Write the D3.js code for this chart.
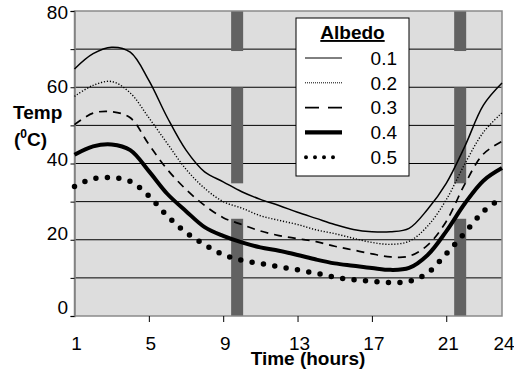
<!DOCTYPE html>
<html>
<head>
<meta charset="utf-8">
<script src="https://cdn.jsdelivr.net/npm/d3@7"></script>
<style>
    body { margin: 0; background: #fff; }
    svg { display: block; font-family: 'Liberation Sans', Arial, sans-serif; }
</style>
</head>
<body>
<div id="chart"></div>
<script>
// hourly temperatures for each albedo
const hours = [1, 2, 3, 4, 5, 6, 7, 8, 9, 10, 11, 12, 13, 14, 15, 16, 17, 18, 19, 20, 21, 22, 23, 24];
const albedo01 = [64.8, 68.8, 70.5, 69.2, 61.8, 52, 43.5, 37.8, 35.2, 32.6, 30.6, 29, 27.2, 25.6, 24, 22.7, 22.1, 22.1, 23, 28, 34.8, 44.5, 55.3, 61.1];
const albedo02 = [57.6, 60.5, 61.5, 58.5, 52, 45.2, 38.5, 33.5, 30, 28.3, 26.3, 25.1, 24, 22.6, 21.6, 20.4, 19.3, 18.8, 19.6, 23.6, 30.5, 39.9, 48.2, 53.3];
const albedo03 = [50.2, 53.2, 53.6, 52, 45, 38.4, 33.2, 29, 25.8, 24, 22.3, 21.1, 20.3, 19.5, 18.3, 17.3, 16.3, 15.5, 15.7, 18.6, 24.8, 34.6, 42.5, 45.8];
const albedo04 = [42.3, 44.5, 45, 43.5, 38, 32, 27.5, 23.3, 21, 19.3, 18, 17.1, 16, 14.8, 13.8, 13.2, 12.6, 12.1, 12.6, 16, 22.2, 29.5, 35.5, 38.8];
const albedo05 = [34, 36, 36.3, 35.3, 31.5, 26.2, 21.9, 18.7, 16.1, 14.6, 13.8, 12.9, 12.1, 11.2, 10.2, 9.5, 9.1, 8.8, 9.1, 11.3, 16.3, 21.8, 27.4, 31];
const seriesNames = ['0.1', '0.2', '0.3', '0.4', '0.5'];

// grey marker bars (hour) and the value ranges they cover
const markerHours = [9.75, 21.75];
const markerSegments = [[0, 25.5], [34.8, 60], [69.5, 80]];

const xTicks = [1, 5, 9, 13, 17, 21, 24];
const yTicks = [0, 10, 20, 30, 40, 50, 60, 70, 80];
const yLabels = [0, 20, 40, 60, 80];

const width = 514;
const height = 371;
const plot = { left: 74.5, right: 502, top: 11, bottom: 316 };

const styles = [
    { width: 1.5, dash: null, cap: 'butt' },
    { width: 1.4, dash: '1.2,1.8', cap: 'butt' },
    { width: 1.7, dash: '8,6', cap: 'butt' },
    { width: 4, dash: null, cap: 'butt' },
    { width: 5.5, dash: '0,11.5', cap: 'round' }
];
const legendStyles = [
    { width: 1, dash: null, cap: 'butt' },
    { width: 1, dash: '1,1', cap: 'butt' },
    { width: 1.7, dash: '14,9', cap: 'butt' },
    { width: 4.3, dash: null, cap: 'butt' },
    { width: 4, dash: '0,9', cap: 'round' }
];

const series = [albedo01, albedo02, albedo03, albedo04, albedo05];

const svg = d3.select('#chart').append('svg')
    .attr('width', width)
    .attr('height', height);

const xScale = d3.scaleLinear().domain([1, 24]).range([plot.left, plot.right]);
const yScale = d3.scaleLinear().domain([0, 80]).range([plot.bottom, plot.top]);
// the value labels sit a little off their ticks in the original
const yLabelScale = d3.scaleLinear().domain([0, 80]).range([307, 12]);

// plot area
svg.append('rect')
    .attr('x', plot.left)
    .attr('y', plot.top)
    .attr('width', plot.right - plot.left)
    .attr('height', plot.bottom - plot.top)
    .attr('fill', '#dddddd');

// gridlines
svg.append('g')
    .selectAll('line')
    .data(yTicks.filter(d => d > 0 && d < 80))
    .join('line')
    .attr('x1', plot.left)
    .attr('x2', plot.right)
    .attr('y1', d => yScale(d))
    .attr('y2', d => yScale(d))
    .attr('stroke', '#000')
    .attr('stroke-width', 1);

// grey marker bars
const barWidth = 12;
markerHours.forEach(h => {
    svg.append('g')
        .selectAll('rect')
        .data(markerSegments)
        .join('rect')
        .attr('x', xScale(h) - barWidth / 2)
        .attr('width', barWidth)
        .attr('y', d => yScale(d[1]))
        .attr('height', d => yScale(d[0]) - yScale(d[1]))
        .attr('fill', '#626262');
});

// frame
svg.append('rect')
    .attr('x', plot.left)
    .attr('y', plot.top)
    .attr('width', plot.right - plot.left)
    .attr('height', plot.bottom - plot.top)
    .attr('fill', 'none')
    .attr('stroke', '#8a8a8a')
    .attr('stroke-width', 1.5);

// y axis ticks
svg.append('g')
    .attr('transform', `translate(${plot.left},0)`)
    .call(d3.axisLeft(yScale).tickValues(yTicks).tickSize(4).tickFormat(''))
    .call(g => g.select('.domain').attr('stroke', '#808080').attr('stroke-width', 1.5))
    .call(g => g.selectAll('.tick line').attr('stroke', '#000'));

svg.append('g')
    .selectAll('text')
    .data(yLabels)
    .join('text')
    .attr('x', 68)
    .attr('y', d => yLabelScale(d))
    .attr('dy', '0.36em')
    .attr('text-anchor', 'end')
    .attr('font-size', 19)
    .text(d => d);

// x axis ticks
svg.append('g')
    .attr('transform', `translate(0,${plot.bottom})`)
    .call(d3.axisBottom(xScale).tickValues([5, 9, 13, 17, 21]).tickSize(6).tickFormat(''))
    .call(g => g.select('.domain').remove())
    .call(g => g.selectAll('.tick line').attr('stroke', '#000'));

svg.append('g')
    .selectAll('text')
    .data(xTicks)
    .join('text')
    .attr('x', d => xScale(d) + 2)
    .attr('y', 350)
    .attr('text-anchor', 'middle')
    .attr('font-size', 19)
    .text(d => d);

// axis titles
svg.append('text')
    .attr('x', 308)
    .attr('y', 365)
    .attr('text-anchor', 'middle')
    .attr('font-size', 19)
    .attr('font-weight', 'bold')
    .text('Time (hours)');

svg.append('text')
    .attr('x', 13)
    .attr('y', 119)
    .attr('font-size', 19)
    .attr('font-weight', 'bold')
    .text('Temp');

const unit = svg.append('text')
    .attr('x', 14)
    .attr('y', 146)
    .attr('font-size', 19)
    .attr('font-weight', 'bold');
unit.append('tspan').text('(');
unit.append('tspan').attr('font-size', 12).attr('dy', -8).text('0');
unit.append('tspan').attr('dy', 8).text('C)');

// temperature curves
const line = d3.line()
    .x((d, i) => xScale(hours[i]))
    .y(d => yScale(d))
    .curve(d3.curveCatmullRom.alpha(0.5));

series.forEach((values, i) => {
    svg.append('path')
        .attr('d', line(values))
        .attr('fill', 'none')
        .attr('stroke', '#000')
        .attr('stroke-width', styles[i].width)
        .attr('stroke-dasharray', styles[i].dash)
        .attr('stroke-linecap', styles[i].cap);
});

// legend
const legend = svg.append('g');
legend.append('rect')
    .attr('x', 296)
    .attr('y', 18)
    .attr('width', 113)
    .attr('height', 158)
    .attr('fill', '#fff')
    .attr('stroke', '#000')
    .attr('stroke-width', 1);

legend.append('text')
    .attr('x', 352.5)
    .attr('y', 39)
    .attr('text-anchor', 'middle')
    .attr('font-size', 19)
    .attr('font-weight', 'bold')
    .attr('text-decoration', 'underline')
    .text('Albedo');

seriesNames.forEach((name, i) => {
    const rowY = 58 + i * 24.8;
    legend.append('line')
        .attr('x1', i === 4 ? 306 : 305)
        .attr('x2', 342)
        .attr('y1', rowY)
        .attr('y2', rowY)
        .attr('stroke', '#000')
        .attr('stroke-width', legendStyles[i].width)
        .attr('stroke-dasharray', legendStyles[i].dash)
        .attr('stroke-linecap', legendStyles[i].cap);
    legend.append('text')
        .attr('x', 397)
        .attr('y', rowY)
        .attr('dy', '0.36em')
        .attr('text-anchor', 'end')
        .attr('font-size', 19)
        .text(name);
});
</script>
</body>
</html>
